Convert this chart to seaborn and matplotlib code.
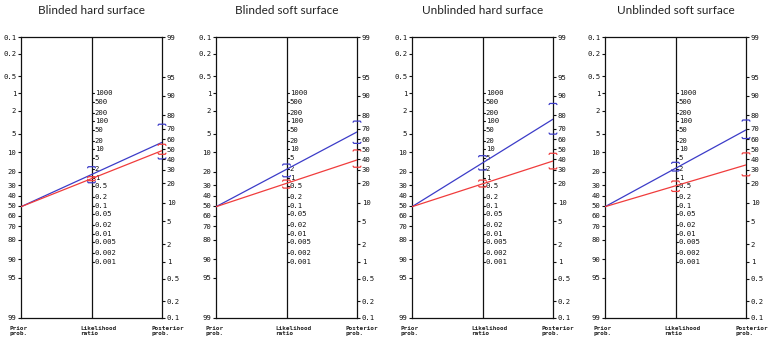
import numpy as np
import pandas as pd
import matplotlib
matplotlib.use('Agg')
import matplotlib.pyplot as plt
import seaborn as sns

# panel titles
titles = ['Blinded hard surface', 'Blinded soft surface',
          'Unblinded hard surface', 'Unblinded soft surface']

# prior probability (%) and posterior probabilities (%)
prior_prob = [51, 51, 51, 51]
post_pos = [57.0, 67.0, 77.4, 68.8]
post_pos_ci = [(40.2, 73.6), (56.0, 76.0), (65.0, 86.7), (60.8, 76.8)]
post_neg = [48.6, 39.2, 38.2, 34.5]
post_neg_ci = [(44.9, 55.1), (32.4, 49.3), (30.9, 45.9), (25.2, 46.3)]

# likelihood ratio confidence intervals
lr_pos_ci = [(0.65, 2.42), (1.06, 3.0), (1.85, 5.96), (1.7, 3.47)]
lr_neg_ci = [(0.77, 1.07), (0.42, 0.81), (0.46, 0.81), (0.32, 0.75)]

# scale labels
prior_ticks = [0.1, 0.2, 0.5, 1, 2, 5, 10, 20, 30, 40, 50, 60, 70, 80, 90, 95, 99]
post_ticks = [99, 95, 90, 80, 70, 60, 50, 40, 30, 20, 10, 5, 2, 1, 0.5, 0.2, 0.1]
lr_ticks = [1000, 500, 200, 100, 50, 20, 10, 5, 2, 1, 0.5, 0.2, 0.1,
            0.05, 0.02, 0.01, 0.005, 0.002, 0.001]

BLUE = '#3c3cc8'
RED = '#f03c3c'
MONO = 'DejaVu Sans Mono'


def logit(p):
    p = np.asarray(p, dtype=float) / 100.0
    return np.log(p / (1 - p))


TOP = float(logit(0.1))
BOTTOM = float(logit(99))
OFFSET = TOP + BOTTOM


def prior_y(p):
    return logit(p)


def post_y(p):
    return -logit(p) + OFFSET


def lr_y(lr):
    return (OFFSET - np.log(np.asarray(lr, dtype=float))) / 2


def bracket(ax, x, y, color, upper):
    # small CI cap with curled ends pointing towards the estimate
    w = 0.028
    h = 0.045
    s = 1 if upper else -1
    ax.plot([x - w, x - w * 0.8, x + w * 0.8, x + w],
            [y + s * h, y, y, y + s * h],
            color=color, lw=0.9, clip_on=False, zorder=5)


sns.set_theme(style='white')
plt.rcParams['font.family'] = ['DejaVu Sans']

fig = plt.figure(figsize=(7.7, 3.43), dpi=100)
W, H = 770.0, 343.0
panel_x = [21, 216, 412, 605]
ax_w = 141
ax_top = 37
ax_bot = 318

for i in range(4):
    ax = fig.add_axes([panel_x[i] / W, (H - ax_bot) / H,
                       ax_w / W, (ax_bot - ax_top) / H])
    ax.set_xlim(0, 1)
    ax.set_ylim(BOTTOM, TOP)
    for sp in ax.spines.values():
        sp.set_color('#111111')
        sp.set_linewidth(0.9)
    ax.axvline(0.5, color='#111111', lw=0.9)
    ax.set_xticks([])

    # prior scale (left)
    ax.set_yticks(prior_y(prior_ticks))
    ax.set_yticklabels(['%g' % v for v in prior_ticks], family=MONO, fontsize=5.2)
    ax.tick_params(axis='y', direction='out', length=2.5, width=0.8, pad=1,
                   left=True, colors='#111111')

    # posterior scale (right)
    ax2 = ax.twinx()
    ax2.set_ylim(BOTTOM, TOP)
    ax2.set_yticks(post_y(post_ticks))
    ax2.set_yticklabels(['%g' % v for v in post_ticks], family=MONO, fontsize=5.2)
    ax2.tick_params(axis='y', direction='out', length=2.5, width=0.8, pad=1,
                    right=True, colors='#111111')
    for sp in ax2.spines.values():
        sp.set_visible(False)

    # likelihood ratio scale (middle)
    for v in lr_ticks:
        yy = lr_y(v)
        ax.plot([0.5, 0.518], [yy, yy], color='#111111', lw=0.8)
        ax.text(0.522, yy, '%g' % v, family=MONO, fontsize=5.2,
                va='center', ha='left', color='#111111')

    # nomogram lines
    df = pd.DataFrame({
        'x': [0, 1, 0, 1],
        'y': [prior_y(prior_prob[i]), post_y(post_pos[i]),
              prior_y(prior_prob[i]), post_y(post_neg[i])],
        'test': ['pos', 'pos', 'neg', 'neg'],
    })
    sns.lineplot(data=df, x='x', y='y', hue='test', units='test', estimator=None,
                 palette={'pos': BLUE, 'neg': RED}, sort=False, legend=False,
                 lw=0.9, ax=ax, zorder=4)
    ax.set_xlabel('')
    ax.set_ylabel('')
    ax2.set_ylabel('')

    # confidence interval brackets
    bracket(ax, 0.5, lr_y(lr_pos_ci[i][1]), BLUE, True)
    bracket(ax, 0.5, lr_y(lr_pos_ci[i][0]), BLUE, False)
    bracket(ax, 0.5, lr_y(lr_neg_ci[i][1]), RED, True)
    bracket(ax, 0.5, lr_y(lr_neg_ci[i][0]), RED, False)
    bracket(ax, 1.0, post_y(post_pos_ci[i][1]), BLUE, True)
    bracket(ax, 1.0, post_y(post_pos_ci[i][0]), BLUE, False)
    bracket(ax, 1.0, post_y(post_neg_ci[i][1]), RED, True)
    bracket(ax, 1.0, post_y(post_neg_ci[i][0]), RED, False)

    # axis captions
    cap_y = -13 / (ax_bot - ax_top)
    dx = -11 / ax_w
    for xx, txt in [(0, 'Prior\nprob.'), (0.5, 'Likelihood\nratio'),
                    (1, 'Posterior\nprob.')]:
        ax.text(xx + dx, cap_y, txt, transform=ax.transAxes, family=MONO,
                fontsize=4.3, fontweight='bold', ha='left', va='center',
                linespacing=1.1, color='#222222')

    ax.text(0.5, 1 + 27 / (ax_bot - ax_top), titles[i], transform=ax.transAxes,
            family=['Lato', 'DejaVu Sans'], fontsize=8.5, ha='center',
            va='center', color='#222222')

fig.savefig('out.png', dpi=100, facecolor='white')
